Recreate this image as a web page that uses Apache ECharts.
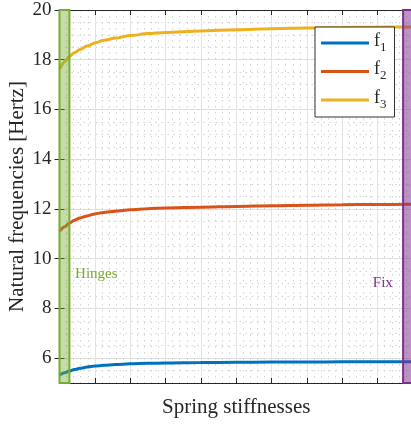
<!DOCTYPE html>
<html>
<head>
<meta charset="utf-8">
<script src="https://cdn.jsdelivr.net/npm/echarts@6/dist/echarts.min.js"></script>
<style>html,body{margin:0;padding:0;background:#fff}#c{width:411px;height:425px}</style>
</head>
<body>
<div id="c"></div>
<script>
// log10 of spring stiffness (arbitrary decades, no labels shown)
const logStiffness = [0, 0.15, 0.27, 0.42, 0.58, 0.78, 1, 1.25, 1.58, 2, 2.5, 3, 4, 5, 6, 7, 8, 9, 10];
const f1 = [5.32, 5.41, 5.48, 5.54, 5.59, 5.64, 5.68, 5.71, 5.74, 5.77, 5.79, 5.80, 5.82, 5.83, 5.84, 5.84, 5.85, 5.85, 5.85];
const f2 = [11.10, 11.28, 11.42, 11.54, 11.64, 11.72, 11.80, 11.86, 11.91, 11.97, 12.01, 12.04, 12.07, 12.10, 12.13, 12.15, 12.17, 12.18, 12.19];
const f3 = [17.61, 17.92, 18.12, 18.28, 18.41, 18.55, 18.67, 18.78, 18.87, 18.97, 19.05, 19.10, 19.16, 19.21, 19.25, 19.28, 19.30, 19.31, 19.32];
const seriesNames = ['f1', 'f2', 'f3'];
const yTicks = [6, 8, 10, 12, 14, 16, 18, 20];
const hingeRange = [0, 0.28];
const fixRange = [9.72, 10];
const hingeLabelAt = [0.44, 9.4];
const fixLabelAt = [9.43, 9.0];

const colors = ['#0072BD', '#D95319', '#EDB120'];
const green = '#77AC30', purple = '#7E2F8E';
const serif = 'Liberation Serif';
const axisColor = '#262626';

const chart = echarts.init(document.getElementById('c'), null, {renderer: 'canvas'});
const zip = (xs, ys) => xs.map((x, i) => [x, ys[i]]);
const lineSeries = [f1, f2, f3].map((d, i) => ({
  name: seriesNames[i], type: 'line', data: zip(logStiffness, d),
  xAxisIndex: 0, yAxisIndex: 0,
  smooth: 0.3, smoothMonotone: 'x', symbol: 'none', z: 2,
  lineStyle: {width: 3, color: colors[i]}, itemStyle: {color: colors[i]}
}));

chart.setOption({
  animation: false,
  backgroundColor: '#fff',
  grid: {left: 59.5, right: -2, top: 10, bottom: 42, containLabel: false, outerBoundsMode: 'none'},
  xAxis: [{
    type: 'value', min: 0, max: 10, interval: 1, position: 'bottom',
    axisLine: {show: true, lineStyle: {color: axisColor}},
    axisTick: {show: true, inside: true, length: 5, lineStyle: {color: axisColor}},
    axisLabel: {show: false},
    splitLine: {show: true, lineStyle: {color: '#e3e3e3', width: 1}},
    minorTick: {show: false, splitNumber: 5},
    minorSplitLine: {show: true, lineStyle: {color: '#d2d2d2', type: [1.5, 4.5]}},
    name: 'Spring stiffnesses', nameLocation: 'middle', nameGap: 14, nameMoveOverlap: false,
    nameTextStyle: {fontFamily: serif, fontSize: 21, color: axisColor}
  }, {
    type: 'value', min: 0, max: 10, interval: 1, position: 'top',
    axisLine: {show: true, lineStyle: {color: axisColor}},
    axisTick: {show: true, inside: true, length: 5, lineStyle: {color: axisColor}},
    axisLabel: {show: false}, splitLine: {show: false}
  }],
  yAxis: [{
    type: 'value', min: 5, max: 20, position: 'left',
    axisLine: {show: true, lineStyle: {color: axisColor}},
    axisTick: {show: true, inside: true, length: 5, customValues: yTicks, lineStyle: {color: axisColor}},
    axisLabel: {customValues: yTicks, fontFamily: serif, fontSize: 19, color: axisColor, margin: 8},
    splitLine: {show: true, lineStyle: {color: '#e3e3e3', width: 1}},
    name: 'Natural frequencies [Hertz]', nameLocation: 'middle', nameGap: 32, nameMoveOverlap: false,
    nameTextStyle: {fontFamily: serif, fontSize: 21, color: axisColor}
  }, {
    type: 'value', min: 5, max: 20, position: 'right',
    axisLine: {show: true, lineStyle: {color: axisColor}},
    axisTick: {show: true, inside: true, length: 5, customValues: yTicks, lineStyle: {color: axisColor}},
    axisLabel: {show: false}, splitLine: {show: false}
  }, {
    type: 'value', min: 5, max: 20, interval: 0.5, position: 'left',
    axisLine: {show: false}, axisTick: {show: false}, axisLabel: {show: false},
    splitLine: {show: true, lineStyle: {color: '#d2d2d2', type: [1.5, 4.5]}}
  }],
  legend: {
    orient: 'vertical', left: 315, top: 27,
    data: seriesNames,
    icon: 'rect', itemWidth: 48, itemHeight: 3, itemGap: 6.5,
    padding: [5, 8, 6, 6],
    backgroundColor: '#fff', borderColor: '#333', borderWidth: 1,
    formatter: n => '{f|f}{s|' + n.slice(1) + '}',
    textStyle: {
      fontFamily: serif, color: axisColor,
      rich: {
        f: {fontFamily: serif, fontSize: 18, lineHeight: 22, verticalAlign: 'top', color: axisColor},
        s: {fontFamily: serif, fontSize: 13, lineHeight: 4, verticalAlign: 'bottom', color: axisColor}
      }
    }
  },
  series: lineSeries.concat([{
    type: 'line', name: 'bands', data: [], xAxisIndex: 0, yAxisIndex: 0, z: 5, silent: true,
    markArea: {
      silent: true, z: 5,
      data: [
        [{xAxis: hingeRange[0], itemStyle: {color: 'rgba(119,172,48,0.42)', borderColor: green, borderWidth: 2}},
         {xAxis: hingeRange[1]}],
        [{xAxis: fixRange[0], itemStyle: {color: 'rgba(126,47,142,0.52)', borderColor: purple, borderWidth: 2}},
         {xAxis: fixRange[1]}]
      ]
    }
  }])
});

const p1 = chart.convertToPixel({xAxisIndex: 0, yAxisIndex: 0}, hingeLabelAt);
const p2 = chart.convertToPixel({xAxisIndex: 0, yAxisIndex: 0}, fixLabelAt);
chart.setOption({
  graphic: [
    {type: 'text', x: p1[0], y: p1[1], z: 10, style: {text: 'Hinges', fill: green, font: '15px "Liberation Serif"', textAlign: 'left', textVerticalAlign: 'middle'}},
    {type: 'text', x: p2[0], y: p2[1], z: 10, style: {text: 'Fix', fill: purple, font: '15px "Liberation Serif"', textAlign: 'right', textVerticalAlign: 'middle'}}
  ]
});
</script>
</body>
</html>
